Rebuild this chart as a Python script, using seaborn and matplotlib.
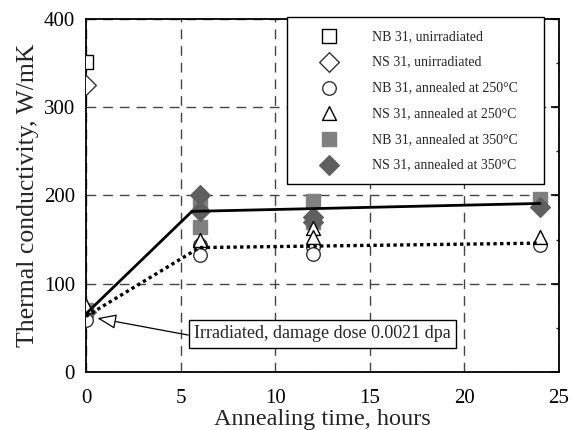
import numpy as np
import pandas as pd
import matplotlib
matplotlib.use("Agg")
import matplotlib.pyplot as plt
from matplotlib.ticker import MultipleLocator
import seaborn as sns

# ---- data ----
nb_unirr_x = [0]
nb_unirr_y = [351]
ns_unirr_x = [0]
ns_unirr_y = [325]
nb250_x = [0, 6, 6, 12, 12, 24]
nb250_y = [59, 144, 133, 142, 134, 144]
ns250_x = [0, 6, 12, 12, 24]
ns250_y = [75, 150, 163, 153, 153]
nb350_x = [0, 6, 6, 12, 12, 24]
nb350_y = [70, 189, 164, 194, 170, 196]
ns350_x = [0, 6, 6, 12, 12, 24]
ns350_y = [68, 200, 183, 176, 170, 187]
fit350_x = [0, 5.6, 24]
fit350_y = [66, 182, 191]
fit250_x = [0, 6, 24]
fit250_y = [63, 141, 146]

labels = ["NB 31, unirradiated", "NS 31, unirradiated",
          "NB 31, annealed at 250°C", "NS 31, annealed at 250°C",
          "NB 31, annealed at 350°C", "NS 31, annealed at 350°C"]
annot_text = "Irradiated, damage dose 0.0021 dpa"

sns.set_style("white")
plt.rcParams['font.family'] = ['Liberation Serif', 'DejaVu Serif']

fig = plt.figure(figsize=(5.71, 4.30), dpi=100)
ax = fig.add_axes([0.1506, 0.1349, 0.8284, 0.8209])

def scat(x, y, marker, size, face, edge, label, z, lw=1.0):
    df = pd.DataFrame({"x": x, "y": y})
    sns.scatterplot(data=df, x="x", y="y", ax=ax, marker=marker, s=size,
                    color=face, edgecolor=edge, linewidth=lw, label=label,
                    zorder=z)

scat(nb350_x, nb350_y, "s", 110, "#808080", "#808080", labels[4], 3)
scat(ns350_x, ns350_y, "D", 100, "#5f5f5f", "#5f5f5f", labels[5], 3)
scat(nb_unirr_x, nb_unirr_y, "s", 110, "white", "black", labels[0], 4)
scat(ns_unirr_x, ns_unirr_y, "D", 100, "white", "#333333", labels[1], 4)
scat(nb250_x, nb250_y, "o", 95, "white", "#333333", labels[2], 4)
scat(ns250_x, ns250_y, "^", 100, "white", "black", labels[3], 4)

sns.lineplot(x=fit350_x, y=fit350_y, ax=ax, color="black", linewidth=2.0,
             sort=False, zorder=5)
sns.lineplot(x=fit250_x, y=fit250_y, ax=ax, color="black", linewidth=2.4,
             linestyle=(0, (1, 1)), sort=False, zorder=5)

ax.set_xlim(0, 25)
ax.set_ylim(0, 400)
ax.xaxis.set_major_locator(MultipleLocator(5))
ax.yaxis.set_major_locator(MultipleLocator(100))
ax.xaxis.set_minor_locator(MultipleLocator(1))
ax.yaxis.set_minor_locator(MultipleLocator(50))
ax.tick_params(which="major", direction="in", length=6, width=1.2,
               labelsize=15, colors="black", right=True)
ax.tick_params(axis="x", which="major", pad=12)
ax.tick_params(axis="y", which="major", pad=8)
ax.tick_params(which="minor", direction="in", length=2, width=1,
               right=True)
ax.grid(True, which="major", linestyle=(0, (7, 5)), color="#444444",
        linewidth=1.0)
for sp in ax.spines.values():
    sp.set_color("black")
    sp.set_linewidth(1.3)

ax.set_xlabel("Annealing time, hours", fontsize=17.5, labelpad=1)
ax.set_ylabel("Thermal conductivity, W/mK", fontsize=18.5, labelpad=3)

handles, labs = ax.get_legend_handles_labels()
order = [labs.index(l) for l in labels]
leg = ax.legend([handles[i] for i in order], [labs[i] for i in order],
                loc="upper left", bbox_to_anchor=(0.425, 1.005, 0.543, 0.0),
                mode="expand", borderaxespad=0, fontsize=10,
                labelspacing=0.92, handlelength=4.2, handletextpad=1.0,
                borderpad=0.9, fancybox=False, edgecolor="black",
                framealpha=1)
leg.get_frame().set_linewidth(1.0)
leg.set_zorder(10)

ax.annotate(annot_text, xy=(0.6, 61), xytext=(12.5, 43.5),
            ha="center", va="center", fontsize=13, zorder=8,
            bbox=dict(boxstyle="square,pad=0.3", fc="white", ec="black", lw=1),
            arrowprops=dict(arrowstyle="-|>,head_length=0.9,head_width=0.35",
                            fc="white", ec="black", lw=0.9,
                            relpos=(0.0, 0.35), shrinkA=0, shrinkB=0))

fig.savefig("out.png", dpi=100)
